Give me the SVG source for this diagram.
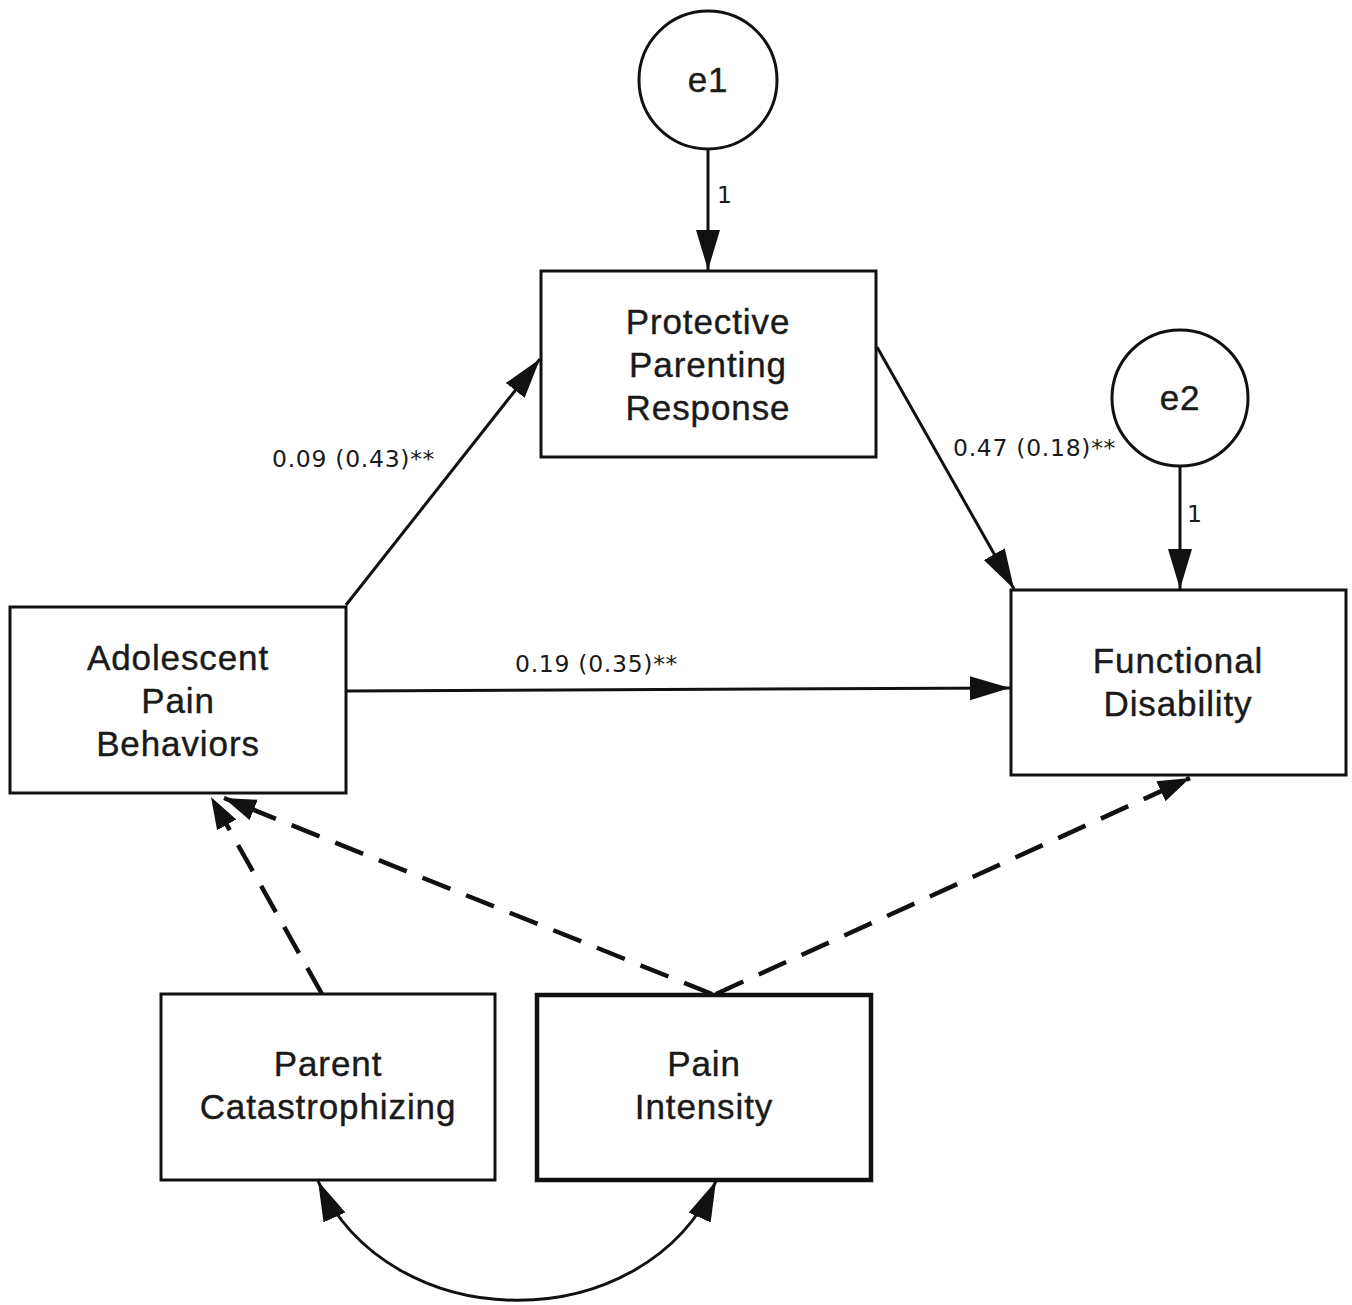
<svg xmlns="http://www.w3.org/2000/svg" width="1352" height="1305" viewBox="0 0 1352 1305">
<defs>
<style>
.box{fill:#fff;stroke:#111;stroke-width:3}
.thick{stroke-width:4.5}
.circ{fill:#fff;stroke:#111;stroke-width:3}
.lbl{font-family:"Liberation Sans",Arial,sans-serif;font-size:35px;letter-spacing:0.9px;fill:#1a1a1a;stroke:#1a1a1a;stroke-width:0.4;text-anchor:middle}
.coef{font-family:"DejaVu Sans",Verdana,sans-serif;font-size:23.5px;letter-spacing:0.7px;fill:#1a1a1a}
.ln{stroke:#111;stroke-width:3;fill:none}
.dash{stroke:#111;stroke-width:4.5;fill:none;stroke-dasharray:30 17}
</style>
<marker id="ah" markerUnits="userSpaceOnUse" markerWidth="44" markerHeight="28" refX="40" refY="12" orient="auto-start-reverse">
<path d="M0,0 L40,12 L0,24 Z" fill="#111"/>
</marker>
<marker id="ahs" markerUnits="userSpaceOnUse" markerWidth="36" markerHeight="26" refX="32" refY="11" orient="auto-start-reverse">
<path d="M0,0 L32,11 L0,22 Z" fill="#111"/>
</marker>
</defs>
<rect width="1352" height="1305" fill="#fff"/>
<g id="connectors">
<line class="ln" x1="708" y1="150" x2="708" y2="270" marker-end="url(#ah)"/>
<line class="ln" x1="1180" y1="467" x2="1180" y2="589" marker-end="url(#ah)"/>
<line class="ln" x1="346" y1="605" x2="540" y2="359" marker-end="url(#ah)"/>
<line class="ln" x1="877" y1="347" x2="1014" y2="589" marker-end="url(#ah)"/>
<line class="ln" x1="346" y1="691" x2="1010" y2="688" marker-end="url(#ah)"/>
<line class="dash" x1="322" y1="994" x2="211" y2="797" marker-end="url(#ahs)"/>
<line class="dash" x1="712" y1="994" x2="224" y2="798" marker-end="url(#ahs)"/>
<line class="dash" x1="716" y1="994" x2="1190" y2="778" marker-end="url(#ahs)"/>
<path class="ln" d="M318,1181 C390,1340 645,1340 716,1181" marker-start="url(#ah)" marker-end="url(#ah)"/>
<text class="coef" x="272" y="467">0.09 (0.43)**</text>
<text class="coef" x="953" y="456">0.47 (0.18)**</text>
<text class="coef" x="515" y="672">0.19 (0.35)**</text>
<text class="coef" x="717" y="203">1</text>
<text class="coef" x="1187" y="522">1</text>
</g>
<g id="e1">
<circle class="circ" cx="708" cy="80" r="69"/>
<text class="lbl" x="708" y="92">e1</text>
</g>
<g id="e2">
<circle class="circ" cx="1180" cy="398" r="68"/>
<text class="lbl" x="1180" y="410">e2</text>
</g>
<g id="ppr">
<rect class="box" x="541" y="271" width="335" height="186"/>
<text class="lbl" x="708" y="334">Protective</text>
<text class="lbl" x="708" y="377">Parenting</text>
<text class="lbl" x="708" y="420">Response</text>
</g>
<g id="fd">
<rect class="box" x="1011" y="590" width="335" height="185"/>
<text class="lbl" x="1178" y="673">Functional</text>
<text class="lbl" x="1178" y="716">Disability</text>
</g>
<g id="apb">
<rect class="box" x="10" y="607" width="336" height="186"/>
<text class="lbl" x="178" y="670">Adolescent</text>
<text class="lbl" x="178" y="713">Pain</text>
<text class="lbl" x="178" y="756">Behaviors</text>
</g>
<g id="pc">
<rect class="box" x="161" y="994" width="334" height="186"/>
<text class="lbl" x="328" y="1076">Parent</text>
<text class="lbl" x="328" y="1119">Catastrophizing</text>
</g>
<g id="pi">
<rect class="box thick" x="537" y="995" width="334" height="185"/>
<text class="lbl" x="704" y="1076">Pain</text>
<text class="lbl" x="704" y="1119">Intensity</text>
</g>
</svg>
